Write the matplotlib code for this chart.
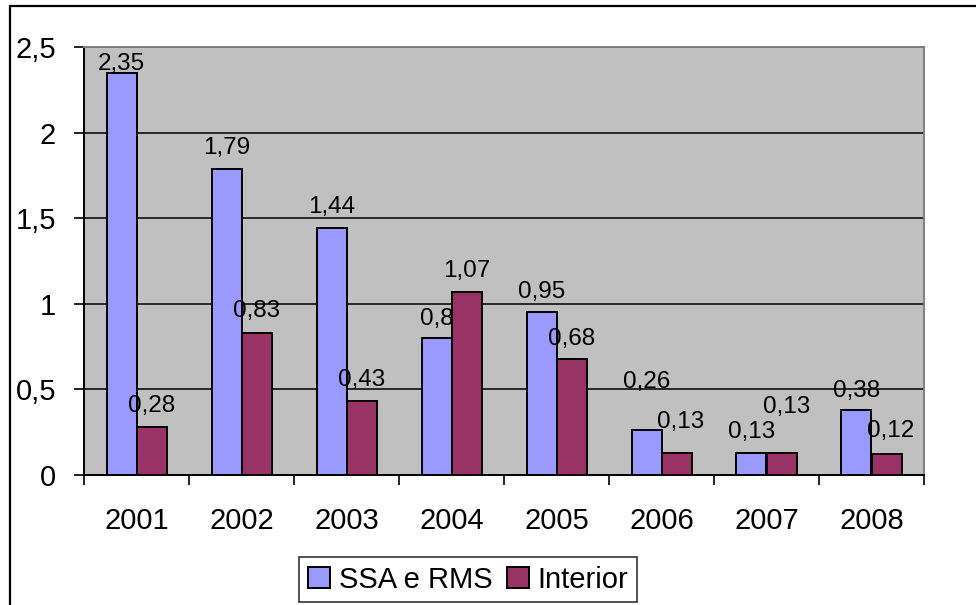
import matplotlib
matplotlib.use("Agg")
import matplotlib.pyplot as plt
from matplotlib.patches import Rectangle
import numpy as np

plt.rcParams['font.family'] = ['Liberation Sans', 'DejaVu Sans']

years = ['2001', '2002', '2003', '2004', '2005', '2006', '2007', '2008']
ssa_rms = [2.35, 1.79, 1.44, 0.8, 0.95, 0.26, 0.13, 0.38]
interior = [0.28, 0.83, 0.43, 1.07, 0.68, 0.13, 0.13, 0.12]
series_names = ['SSA e RMS', 'Interior']
ytick_values = [0, 0.5, 1, 1.5, 2, 2.5]
ytick_labels = ['0', '0,5', '1', '1,5', '2', '2,5']

# label placement (pixels above bar top / horizontal nudge)
pad_ssa = [3, 15, 15, 13, 14, 42, 15, 13]
pad_int = [15, 16, 15, 15, 14, 25, 40, 17]
dx_ssa = [0, 0, 0, 0, 0, 0, 0, 0]
dx_int = [0, 0, 0, 0, 0, 4, 5, 4]

W, H, DPI = 976, 605, 100
fig = plt.figure(figsize=(W / DPI, H / DPI), dpi=DPI)
fig.patch.set_facecolor('white')

# outer chart frame (extends beyond the right/bottom edges)
fig.patches.append(Rectangle((9.5 / W, -0.1), 1.2, 1 - 6 / H + 0.1,
                             transform=fig.transFigure, fill=False,
                             edgecolor='black', linewidth=1.6, zorder=0))

left, right, top, bottom = 84, 924, 47, 475
ax = fig.add_axes([left / W, 1 - bottom / H, (right - left) / W, (bottom - top) / H])
ax.set_facecolor('#C0C0C0')

x = np.arange(len(years))
bw = 30 / 105
ax.bar(x - bw / 2, ssa_rms, width=bw, color='#9999FF', edgecolor='black',
       linewidth=1.4, zorder=3, label=series_names[0])
ax.bar(x + bw / 2, interior, width=bw, color='#993366', edgecolor='black',
       linewidth=1.4, zorder=3, label=series_names[1])

px = 72 / DPI
for i in range(len(years)):
    ax.annotate(f"{ssa_rms[i]:g}".replace('.', ','),
                (x[i] - bw / 2, ssa_rms[i]), xytext=(dx_ssa[i] * px, pad_ssa[i] * px),
                textcoords='offset points', ha='center', va='baseline',
                fontsize=17.5, zorder=5, annotation_clip=False)
    ax.annotate(f"{interior[i]:g}".replace('.', ','),
                (x[i] + bw / 2, interior[i]), xytext=(dx_int[i] * px, pad_int[i] * px),
                textcoords='offset points', ha='center', va='baseline',
                fontsize=17.5, zorder=5, annotation_clip=False)

ax.set_xlim(-0.5, len(years) - 0.5)
ax.set_ylim(0, 2.5)

ax.set_yticks(ytick_values)
ax.set_yticklabels(ytick_labels, fontsize=21)
ax.yaxis.grid(True, color='black', linewidth=1.1, zorder=1)
ax.set_axisbelow(True)
ax.tick_params(axis='y', direction='out', length=10 * px, width=1.2, pad=13, color='black')

ax.set_xticks(x)
ax.set_xticklabels(years, fontsize=21)
ax.set_xticks(np.arange(-0.5, len(years)), minor=True)
ax.tick_params(axis='x', which='major', length=0, pad=23)
ax.tick_params(axis='x', which='minor', direction='out', length=10 * px, width=1.2, color='black')

for s in ('left', 'bottom'):
    ax.spines[s].set_color('black')
    ax.spines[s].set_linewidth(1.4)
for s in ('top', 'right'):
    ax.spines[s].set_color('#808080')
    ax.spines[s].set_linewidth(1.4)

leg = fig.legend(loc='center', bbox_to_anchor=(468 / W, 1 - 579.5 / H), ncol=2,
                 fontsize=21, frameon=True, fancybox=False, shadow=False,
                 handlelength=0.75, handleheight=0.75, handletextpad=0.3,
                 columnspacing=0.5, borderpad=0.3, borderaxespad=0)
leg.get_frame().set_edgecolor('black')
leg.get_frame().set_linewidth(1.2)

fig.savefig('out.png', dpi=DPI)
